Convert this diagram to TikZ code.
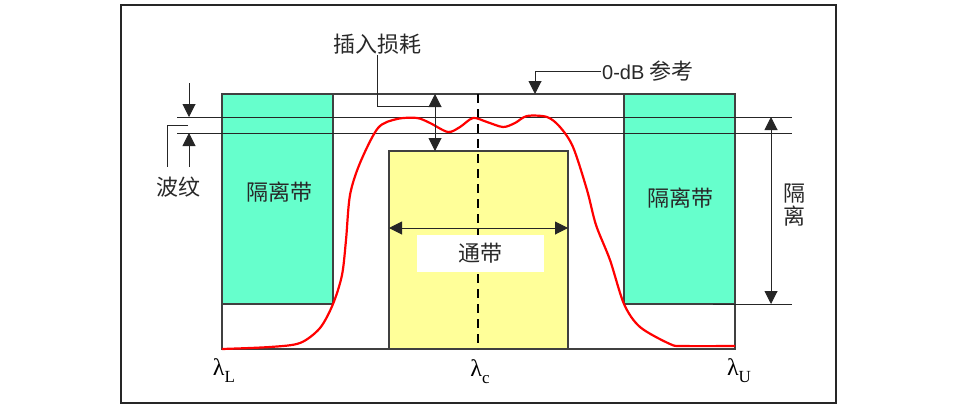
\documentclass[tikz,border=0pt]{standalone}
\usepackage{fontspec}
\setmainfont{Liberation Sans}
\newfontfamily\cjk{Noto Sans CJK SC}
\newfontfamily\lamfont{Liberation Serif}
\usetikzlibrary{arrows.meta}
\definecolor{stopgreen}{RGB}{102,255,204}
\definecolor{passyellow}{RGB}{255,255,153}
\definecolor{inkgray}{RGB}{40,40,40}
\def\lam#1{{\lamfont\fontsize{24}{24}\selectfont λ\raisebox{-7pt}{\fontsize{17}{17}\selectfont #1}}}
\tikzstyle{txt}=[font=\cjk\fontsize{22}{23}\selectfont,text=inkgray,inner sep=1pt]
\tikzstyle{lam}=[inner sep=0pt]
\tikzstyle{box}=[draw=black!75,line width=1.2pt]
\tikzstyle{stopband}=[box,fill=stopgreen]
\tikzstyle{passband}=[box,fill=passyellow]
\tikzstyle{guide}=[draw=black!85,line width=1pt]
\tikzstyle{tip}=[-{Triangle[length=13pt,width=13pt]}]
\tikzstyle{dtip}=[{Triangle[length=13pt,width=13pt]}-{Triangle[length=13pt,width=13pt]}]
\tikzstyle{resp}=[draw=red,line width=2.2pt,line join=round]

\begin{document}
\begin{tikzpicture}[x=1pt,y=-1pt]
  \useasboundingbox (0,0) rectangle (960,410);
  \draw[line width=2.4pt,draw=black!85] (121,5) rectangle (836,403);
  % bands
  \draw[box] (222,94) rectangle (735,349);
  \draw[stopband] (222,94) rectangle (333,304);
  \draw[stopband] (624,94) rectangle (735,304);
  \draw[passband] (389,151) rectangle (568,349);
  \draw[line width=2pt,dash pattern=on 9pt off 6pt] (478,94) -- (478,349);
  % reference levels
  \coordinate (r1) at (189,117);
  \coordinate (r2) at (189,133);
  \draw[guide] (177,117) -- (792,117);
  \draw[guide] (177,133) -- (792,133);
  \coordinate (isoLeft) at (713,304);
  \coordinate (isoRight) at (792,304);
  \draw[guide] (isoLeft) -- (isoRight);
  % response
  \draw[resp] plot[smooth,tension=0.5] coordinates {(222,349) (270,347) (300,343) (320,328)
    (333,304) (342,275) (346,240) (350,195) (360,163) (378,128) (397,119) (417,118)
    (430,123) (448,132) (460,127) (473,118) (487,122) (503,127) (515,123) (527,116)
    (547,117) (560,127) (573,147) (587,190) (596,225) (610,260) (624,304) (640,327)
    (670,344) (683,346) (735,346)};
  % labels
  \node[txt] (stopL) at (279,192) {隔离带};
  \node[txt] (stopR) at (680,198) {隔离带};
  \node[txt] (rippleLabel) at (178,187) {波纹};
  \node[txt] (ilLabel) at (377,44) {插入损耗};
  \node[txt,anchor=west] (refLabel) at (601,71) {{\rmfamily\fontsize{20}{22}\selectfont 0-dB} 参考};
  \node[txt,align=center] (isoLabel) at (794,205) {隔\\离};
  \node[txt,fill=white,minimum width=127pt,minimum height=37pt] (passLabel) at (480,253) {通带};
  \node[lam] (lamL) at (224,371) {\lam{L}};
  \node[lam] (lamC) at (480,372) {\lam{c}};
  \node[lam] (lamU) at (739,371) {\lam{U}};
  % insertion loss
  \coordinate (ilMid) at (435,106);
  \coordinate (ilTop) at (435,94);
  \coordinate (ilBot) at (435,151);
  \draw[guide] (ilLabel.south) |- (ilMid);
  \draw[guide,dtip] (ilTop) -- (ilBot);
  % 0 dB
  \coordinate (refTip) at (535,94);
  \draw[guide,tip] (refLabel.west) -| (refTip);
  % ripple
  \coordinate (rTop) at (189,83);
  \coordinate (rBot) at (189,167);
  \coordinate (rBend) at (167,125);
  \draw[guide,tip] (rTop) -- (r1);
  \draw[guide,tip] (rBot) -- (r2);
  \draw[guide] (188,125) -- (rBend) -- (rBend |- rBot);
  % isolation and passband
  \coordinate (isoTop) at (771,117);
  \coordinate (isoBot) at (771,304);
  \draw[guide,dtip] (isoTop) -- (isoBot);
  \coordinate (pL) at (389,228);
  \coordinate (pR) at (568,228);
  \draw[guide,dtip] (pL) -- (pR);
\end{tikzpicture}
\end{document}
